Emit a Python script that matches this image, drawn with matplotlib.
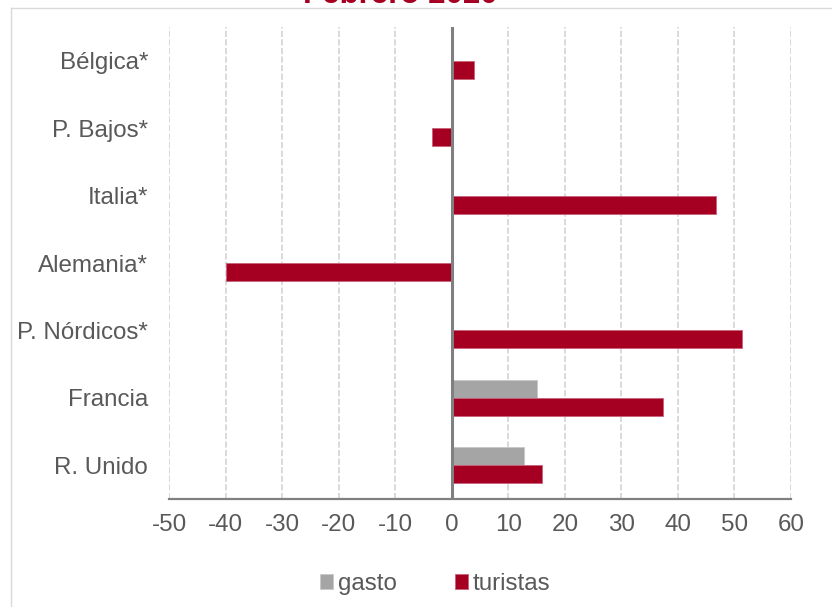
#!/usr/bin/env python3
"""Gasto y turistas por mercado emisor - Febrero 2020"""
import numpy as np
import matplotlib
matplotlib.use('Agg')
import matplotlib.pyplot as plt
from matplotlib.lines import Line2D

FS = 17.4

plt.rcParams.update({
    'font.family': ['Liberation Sans', 'DejaVu Sans'],
    'font.size': FS,
})

# Data (top to bottom as in the chart)
paises = ['Bélgica*', 'P. Bajos*', 'Italia*', 'Alemania*',
          'P. Nórdicos*', 'Francia', 'R. Unido']
gasto = [np.nan, np.nan, np.nan, np.nan, np.nan, 15.1, 12.8]
turistas = [4.0, -3.5, 46.8, -40.0, 51.3, 37.4, 16.0]
xticks = list(range(-50, 61, 10))

RED = '#A50021'
GREY = '#A5A5A5'
TXT = '#595959'

W, H = 832, 607
fig = plt.figure(figsize=(W / 100, H / 100), dpi=100)
ax = fig.add_axes([169 / W, 1 - 499 / H, (791 - 169) / W, (499 - 27) / H])

n = len(paises)
y = np.arange(n)[::-1]
h = 0.267

ax.barh(y + h / 2, gasto, height=h, color=GREY, edgecolor='#C8C8C8',
        linewidth=0.6, label='gasto', zorder=3)
ax.barh(y - h / 2, turistas, height=h, color=RED, edgecolor='#C8607A',
        linewidth=0.6, label='turistas', zorder=3)

# grid + axes
for t in xticks:
    ax.axvline(t, color='#D9D9D9', lw=1.4, linestyle=(0, (3.2, 1.2)), zorder=1)
ax.axvline(0, color='#808080', lw=2.2, zorder=4)

ax.set_xlim(-50, 60)
ax.set_ylim(-0.5, n - 0.5)
ax.set_xticks(xticks)
ax.set_xticklabels([str(t) for t in xticks])
ax.set_yticks(y)
ax.set_yticklabels(paises)
ax.tick_params(axis='both', length=0, colors=TXT, labelsize=FS)
ax.tick_params(axis='x', pad=11)
ax.tick_params(axis='y', pad=15)

for s in ['top', 'right', 'left']:
    ax.spines[s].set_visible(False)
ax.spines['bottom'].set_color('#808080')
ax.spines['bottom'].set_linewidth(1.6)
ax.spines['bottom'].set_zorder(5)

# legend
leg = fig.legend(loc='center', bbox_to_anchor=(435 / W, 1 - 584 / H), ncol=2,
                 frameon=False, handlelength=0.55, handleheight=0.55,
                 handletextpad=0.2, columnspacing=2.4, fontsize=FS)
for t in leg.get_texts():
    t.set_color(TXT)

# outer chart frame (partly cropped)
fig.add_artist(Line2D([10.7 / W, 10.7 / W], [0, 1 - 8.3 / H],
                      transform=fig.transFigure, color='#D9D9D9', lw=1))
fig.add_artist(Line2D([10.7 / W, 1], [1 - 8.3 / H, 1 - 8.3 / H],
                      transform=fig.transFigure, color='#D9D9D9', lw=1))

# title (cut off at the top in the original too)
fig.text(400 / W, 1 - 2.7 / H, 'Febrero 2020', ha='center', va='baseline',
         color=RED, fontsize=22.5, fontweight='bold')

fig.savefig('out.png', dpi=100, facecolor='white')
print("saved out.png")
